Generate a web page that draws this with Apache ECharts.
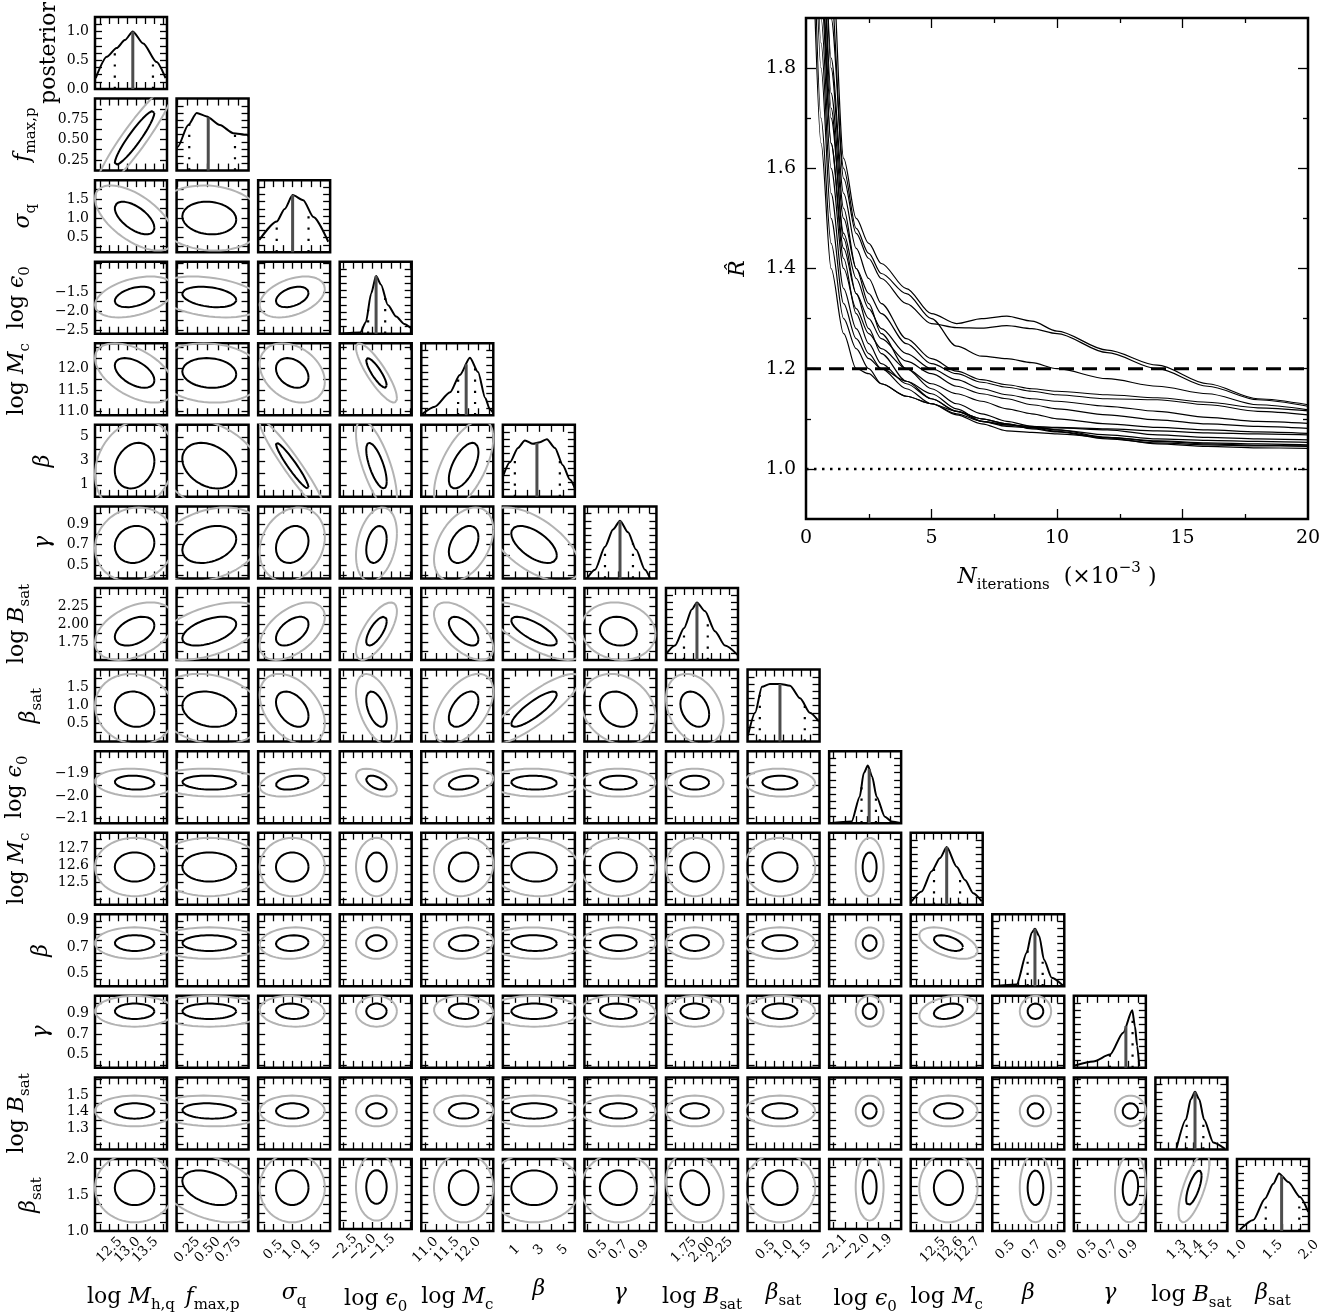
<!DOCTYPE html>
<html>
<head>
<meta charset="utf-8">
<script src="https://cdn.jsdelivr.net/npm/echarts/dist/echarts.min.js"></script>
<style>
html, body { margin: 0; padding: 0; background: #fff; }
#main { width: 1338px; height: 1316px; }
</style>
</head>
<body>
<div id="main"></div>
<script>
var chart = echarts.init(document.getElementById('main'));
var FONT = 'DejaVu Serif';

// ---- parameters (rows / columns of the corner plot) ----
var names = [
    '{r|log }{i|M}{s|h,q}', '{i|f}{s|max,p}', '{i|σ}{s|q}', '{r|log }{i|ϵ}{s|0}', '{r|log }{i|M}{s|c}',
    '{i|β}', '{i|γ}', '{r|log }{i|B}{s|sat}', '{i|β}{s|sat}',
    '{r|log }{i|ϵ}{s|0}', '{r|log }{i|M}{s|c}', '{i|β}', '{i|γ}', '{r|log }{i|B}{s|sat}', '{i|β}{s|sat}'
];
var axisMin = [12.1, 0.12, 0.1, -2.6, 10.9, 0, 0.37, 1.5, 0, -2.12, 12.37, 0.4, 0.37, 1.17, 1.0];
var axisMax = [14.1, 1.0, 2.0, -0.7, 12.6, 6, 1.07, 2.5, 2.0, -1.8, 12.79, 0.95, 1.07, 1.61, 2.0];
var tickStep = [0.25, 0.125, 0.25, 0.25, 0.25, 1, 0.1, 0.125, 0.25, 0.05, 0.05, 0.05, 0.1, 0.05, 0.125];
var tickLabels = [
    [12.5, 13.0, 13.5], [0.25, 0.5, 0.75], [0.5, 1.0, 1.5], [-2.5, -2.0, -1.5], [11.0, 11.5, 12.0],
    [1, 3, 5], [0.5, 0.7, 0.9], [1.75, 2.0, 2.25], [0.5, 1.0, 1.5],
    [-2.1, -2.0, -1.9], [12.5, 12.6, 12.7], [0.5, 0.7, 0.9], [0.5, 0.7, 0.9], [1.3, 1.4, 1.5], [1.0, 1.5, 2.0]
];
var labelDigits = [1, 2, 1, 1, 1, 0, 1, 2, 1, 1, 1, 1, 1, 1, 1];
var postLabels = [0.0, 0.5, 1.0];

// ---- 2D contours: centre, 1-sigma-contour half width, correlations ----
var center = [13.2, 0.52, 1.0, -1.63, 11.9, 2.6, 0.7, 1.9, 0.9, -1.94, 12.59, 0.73, 0.92, 1.405, 1.6];
var halfWidth = [0.55, 0.33, 0.43, 0.27, 0.35, 1.9, 0.18, 0.2, 0.49, 0.031, 0.085, 0.06, 0.075, 0.047, 0.24];
var rho = [
    [],
    [0.93],
    [-0.6, -0.1],
    [0.4, -0.3, 0.4],
    [-0.5, -0.1, -0.3, -0.85],
    [0.2, -0.3, -0.95, -0.7, 0.6],
    [0.1, 0.3, 0.2, 0.3, 0.4, -0.6],
    [0.4, 0.5, 0.5, 0.7, -0.6, -0.75, -0.1],
    [-0.1, -0.2, -0.4, -0.5, 0.5, 0.85, -0.2, -0.3],
    [-0.1, -0.1, 0.3, -0.5, 0.3, -0.05, 0, 0, -0.05],
    [0, 0, 0, 0, 0.1, -0.1, 0, 0, 0, 0],
    [0, 0, 0.1, 0, 0.1, -0.05, 0, 0, 0, 0, -0.5],
    [0, 0, -0.1, 0, -0.1, 0, -0.1, 0, 0, 0, 0.3, 0],
    [0, -0.1, 0, 0, 0, 0, 0, 0, 0, 0, 0, 0, 0],
    [0, -0.4, 0, 0, 0, 0, 0, -0.2, 0, 0, 0, 0, 0.1, 0.7]
];

// ---- 1D marginal posteriors ----
var histX = [
    [12.12, 12.43, 12.70, 12.93, 13.15, 13.44, 13.81, 14.06],
    [0.12, 0.133, 0.263, 0.366, 0.488, 0.65, 0.813, 0.977, 1.0],
    [0.13, 0.59, 0.8, 1.01, 1.29, 1.56, 1.95],
    [-2.6, -2.06, -1.91, -1.77, -1.64, -1.51, -1.33, -1.11, -0.90, -0.72],
    [10.92, 11.22, 11.58, 11.81, 12.05, 12.24, 12.41, 12.52, 12.59],
    [0, 0.59, 1.26, 1.84, 2.51, 3.09, 3.67, 4.34, 5.0, 5.59, 6.0],
    [0.395, 0.473, 0.57, 0.648, 0.716, 0.794, 0.872, 0.959, 1.008],
    [1.5, 1.625, 1.75, 1.861, 1.93, 2.04, 2.18, 2.32, 2.5],
    [0.01, 0.21, 0.4, 0.62, 0.9, 1.18, 1.46, 1.73, 1.98],
    [-2.12, -2.02, -1.984, -1.966, -1.948, -1.929, -1.909, -1.872, -1.843, -1.8],
    [12.376, 12.434, 12.492, 12.541, 12.58, 12.638, 12.687, 12.735, 12.784],
    [0.4, 0.586, 0.663, 0.701, 0.726, 0.759, 0.795, 0.854, 0.942],
    [0.381, 0.559, 0.721, 0.85, 0.938, 0.964, 0.986, 1.006],
    [1.30, 1.357, 1.386, 1.412, 1.438, 1.467, 1.524, 1.595],
    [1.04, 1.226, 1.389, 1.504, 1.583, 1.713, 1.875, 1.99]
];
var histY = [
    [0.19, 0.56, 0.71, 0.85, 1.0, 0.79, 0.47, 0.19],
    [0.38, 0.41, 0.79, 1.0, 0.94, 0.79, 0.65, 0.62, 0.6],
    [0.21, 0.53, 0.75, 0.99, 0.9, 0.61, 0.18],
    [0, 0.02, 0.2, 0.7, 1.0, 0.85, 0.5, 0.3, 0.17, 0.1],
    [0.02, 0.15, 0.4, 0.7, 1.0, 0.75, 0.3, 0.1, 0.05],
    [0.35, 0.6, 0.85, 0.98, 0.92, 0.95, 1.0, 0.85, 0.55, 0.3, 0.15],
    [0, 0.15, 0.55, 0.85, 1.0, 0.8, 0.5, 0.15, 0],
    [0.1, 0.25, 0.55, 0.88, 1.0, 0.85, 0.5, 0.25, 0.08],
    [0.1, 0.5, 0.95, 1.0, 1.0, 0.97, 0.75, 0.5, 0.35],
    [0, 0.03, 0.46, 0.87, 1.0, 0.81, 0.46, 0.11, 0.03, 0],
    [0.06, 0.23, 0.58, 0.81, 1.0, 0.66, 0.43, 0.2, 0.06],
    [0, 0.03, 0.58, 0.93, 1.0, 0.87, 0.46, 0.15, 0.01],
    [0.04, 0.11, 0.23, 0.61, 1.0, 0.72, 0.38, 0.03],
    [0.03, 0.52, 0.87, 1.0, 0.87, 0.52, 0.12, 0.01],
    [0.02, 0.19, 0.56, 0.82, 1.0, 0.85, 0.59, 0.33]
];
var median = [13.15, 0.507, 1.01, -1.64, 11.96, 2.84, 0.716, 1.93, 0.9, -1.942, 12.58, 0.726, 0.876, 1.412, 1.62];
var q16 = [12.65, 0.275, 0.59, -1.85, 11.77, 1.0, 0.57, 1.75, 0.34, -1.976, 12.506, 0.670, 0.721, 1.361, 1.40];
var q84 = [13.71, 0.834, 1.43, -1.40, 12.17, 4.75, 0.842, 2.08, 1.59, -1.912, 12.658, 0.785, 0.941, 1.463, 1.865];

// ---- Gelman-Rubin R-hat versus iterations (x 10^3) ----
var iterations = [0.3, 0.6, 1, 1.5, 2, 2.5, 3, 4, 5, 6, 7, 8, 9, 10, 12, 14, 16, 18, 20];
var rhat = [
    [3.2, 2.6, 2.05, 1.62, 1.50, 1.45, 1.41, 1.36, 1.31, 1.29, 1.30, 1.305, 1.295, 1.275, 1.237, 1.207, 1.17, 1.14, 1.128],
    [3.0, 2.4, 1.95, 1.58, 1.47, 1.42, 1.38, 1.33, 1.29, 1.282, 1.281, 1.286, 1.28, 1.27, 1.232, 1.2, 1.165, 1.138, 1.125],
    [2.9, 2.3, 1.9, 1.6, 1.48, 1.43, 1.39, 1.35, 1.30, 1.245, 1.225, 1.22, 1.212, 1.2, 1.18, 1.165, 1.15, 1.128, 1.118],
    [2.7, 2.2, 1.82, 1.55, 1.44, 1.38, 1.33, 1.26, 1.22, 1.195, 1.178, 1.168, 1.16, 1.155, 1.148, 1.142, 1.133, 1.122, 1.116],
    [2.6, 2.1, 1.75, 1.5, 1.40, 1.35, 1.31, 1.25, 1.21, 1.19, 1.173, 1.163, 1.155, 1.148, 1.14, 1.138, 1.128, 1.115, 1.108],
    [2.5, 2.0, 1.7, 1.47, 1.38, 1.32, 1.28, 1.23, 1.2, 1.178, 1.16, 1.148, 1.14, 1.135, 1.125, 1.115, 1.103, 1.095, 1.091],
    [2.4, 1.95, 1.65, 1.44, 1.35, 1.3, 1.26, 1.215, 1.19, 1.165, 1.15, 1.14, 1.128, 1.12, 1.108, 1.098, 1.09, 1.085, 1.081],
    [2.3, 1.9, 1.6, 1.4, 1.32, 1.27, 1.24, 1.2, 1.17, 1.15, 1.135, 1.12, 1.11, 1.1, 1.09, 1.083, 1.078, 1.074, 1.071],
    [2.6, 2.1, 1.72, 1.46, 1.35, 1.28, 1.23, 1.175, 1.14, 1.115, 1.095, 1.088, 1.085, 1.083, 1.08, 1.076, 1.072, 1.07, 1.068],
    [2.2, 1.8, 1.5, 1.33, 1.26, 1.22, 1.2, 1.175, 1.15, 1.12, 1.095, 1.085, 1.082, 1.082, 1.078, 1.068, 1.063, 1.06, 1.058],
    [2.3, 1.85, 1.55, 1.36, 1.28, 1.23, 1.2, 1.16, 1.13, 1.11, 1.095, 1.088, 1.083, 1.078, 1.068, 1.06, 1.057, 1.055, 1.053],
    [2.1, 1.7, 1.45, 1.3, 1.24, 1.2, 1.17, 1.145, 1.13, 1.108, 1.09, 1.076, 1.073, 1.07, 1.063, 1.056, 1.052, 1.05, 1.048],
    [2.8, 2.2, 1.8, 1.52, 1.4, 1.33, 1.27, 1.2, 1.16, 1.13, 1.11, 1.095, 1.085, 1.078, 1.063, 1.055, 1.05, 1.047, 1.046],
    [2.0, 1.65, 1.4, 1.27, 1.2, 1.19, 1.17, 1.145, 1.13, 1.115, 1.1, 1.09, 1.08, 1.074, 1.06, 1.052, 1.048, 1.046, 1.045],
    [2.5, 2.0, 1.65, 1.42, 1.31, 1.25, 1.21, 1.17, 1.14, 1.115, 1.1, 1.09, 1.082, 1.075, 1.062, 1.05, 1.045, 1.042, 1.041]
];
var rhatThreshold = 1.2;
var rhatIdeal = 1.0;

// ---- layout ----
var CELL = 72, PITCH = 81.57, LEFT0 = 95, TOP0 = 17;
var yNameGap = [30, 56, 56, 62, 62, 36, 36, 62, 50, 64, 62, 38, 38, 62, 50];
var xNameGap = [50, 50, 46, 54, 50, 42, 46, 50, 46, 54, 50, 46, 46, 48, 46];

var RICH = {
    r: { fontFamily: FONT, fontSize: 22, lineHeight: 32, color: '#000' },
    i: { fontFamily: FONT, fontSize: 22, fontStyle: 'italic', lineHeight: 32, color: '#000' },
    s: { fontFamily: FONT, fontSize: 15, lineHeight: 15, verticalAlign: 'bottom', color: '#000' },
    u: { fontFamily: FONT, fontSize: 15, lineHeight: 15, verticalAlign: 'top', color: '#000' }
};

function ticksFor(min, max, step) {
    var out = [];
    var v = Math.ceil((min + 1e-9) / step) * step;
    for (; v < max - 1e-9; v += step) out.push(+v.toFixed(6));
    return out;
}
function fmt(d) {
    return function (v) { return (+v).toFixed(d).replace('-', '\u2212'); };
}
function interp(p, x) {
    var xs = histX[p], ys = histY[p];
    for (var k = 1; k < xs.length; k++) {
        if (x <= xs[k]) {
            var t = (x - xs[k - 1]) / (xs[k] - xs[k - 1]);
            return ys[k - 1] + t * (ys[k] - ys[k - 1]);
        }
    }
    return ys[ys.length - 1];
}
function ellipse(cx, cy, wx, wy, r, k) {
    var pts = [];
    var q = Math.sqrt(1 - r * r);
    for (var n = 0; n <= 60; n++) {
        var t = n / 60 * 2 * Math.PI;
        var u = Math.cos(t), v = r * Math.cos(t) + q * Math.sin(t);
        pts.push([cx + k * wx * u, cy + k * wy * v]);
    }
    return pts;
}

var grids = [], xAxes = [], yAxes = [], series = [];

function tickAxis(kind, g, pos, min, max, ticks, tickLen) {
    var a = {
        type: 'value', gridIndex: g, position: pos, min: min, max: max,
        axisLine: { show: false, onZero: false }, splitLine: { show: false },
        axisTick: { show: !!ticks, inside: true, length: tickLen, customValues: ticks || [], lineStyle: { color: '#000', width: 1.3 } },
        axisLabel: { show: false }
    };
    (kind === 'x' ? xAxes : yAxes).push(a);
    return a;
}

function labelStyle(labels, digits, rotate) {
    var l = {
        show: true, customValues: labels, formatter: fmt(digits), color: '#000',
        fontFamily: FONT, fontSize: rotate ? 13.5 : 14, margin: rotate ? 19 : 6,
        showMinLabel: true, showMaxLabel: true, hideOverlap: false
    };
    if (rotate) {
        l.rotate = 45;
        l.align = 'center';
        l.verticalAlign = 'middle';
    }
    return l;
}

function setName(a, kind, name, gap) {
    a.name = name;
    a.nameLocation = 'middle';
    a.nameGap = gap;
    a.nameTextStyle = { rich: RICH };
    if (kind === 'y') a.nameRotate = 90;
}

function lineSeries(xi, yi, data, style, extra) {
    var s = {
        type: 'line', xAxisIndex: xi, yAxisIndex: yi, data: data,
        showSymbol: false, symbol: 'none', silent: true, animation: false, clip: true,
        lineStyle: style
    };
    for (var key in extra) s[key] = extra[key];
    series.push(s);
}

for (var i = 0; i < 15; i++) {
    for (var j = 0; j <= i; j++) {
        var g = grids.length;
        grids.push({
            left: LEFT0 + j * PITCH, top: TOP0 + i * PITCH, width: CELL, height: CELL,
            show: true, borderColor: '#000', borderWidth: 2.5, backgroundColor: 'transparent'
        });
        var xt = ticksFor(axisMin[j], axisMax[j], tickStep[j]);
        var ax = tickAxis('x', g, 'bottom', axisMin[j], axisMax[j], xt, 7);
        var xb = xAxes.length - 1;
        if (i === 14) {
            // outer labels on this axis, the middle label on an overlaid axis (keeps all three visible)
            var lab = tickLabels[j];
            ax.axisLabel = labelStyle([lab[0], lab[2]], labelDigits[j], true);
            setName(ax, 'x', names[j], xNameGap[j]);
            var mid = tickAxis('x', g, 'bottom', axisMin[j], axisMax[j], null, 7);
            mid.axisLabel = labelStyle([lab[1]], labelDigits[j], true);
        }
        tickAxis('x', g, 'top', axisMin[j], axisMax[j], xt, 7);

        var diag = (i === j);
        var ymin = diag ? 0 : axisMin[i], ymax = diag ? 1.25 : axisMax[i];
        var yt = diag ? ticksFor(0, 1.25, 0.125) : ticksFor(axisMin[i], axisMax[i], tickStep[i]);
        var ay = tickAxis('y', g, 'left', ymin, ymax, yt, 7);
        var yl = yAxes.length - 1;
        if (j === 0) {
            ay.axisLabel = labelStyle(diag ? postLabels : tickLabels[i], diag ? 1 : labelDigits[i], false);
            setName(ay, 'y', i === 0 ? '{r|posterior}' : names[i], yNameGap[i]);
        }
        tickAxis('y', g, 'right', ymin, ymax, yt, 7);

        if (diag) {
            var p = j;
            var curve = histX[p].map(function (x, k) { return [x, histY[p][k]]; });
            lineSeries(xb, yl, curve, { color: '#000', width: 2 }, { smooth: 0.25, smoothMonotone: 'x' });
            lineSeries(xb, yl, [[median[p], 0], [median[p], interp(p, median[p])]], { color: '#4d4d4d', width: 3 });
            lineSeries(xb, yl, [[q16[p], 0], [q16[p], interp(p, q16[p])]], { color: '#000', width: 2.2, type: [2.2, 9] });
            lineSeries(xb, yl, [[q84[p], 0], [q84[p], interp(p, q84[p])]], { color: '#000', width: 2.2, type: [2.2, 9] });
        } else {
            var r = rho[i][j];
            lineSeries(xb, yl, ellipse(center[j], center[i], halfWidth[j], halfWidth[i], r, 2.0), { color: '#b3b3b3', width: 2 });
            lineSeries(xb, yl, ellipse(center[j], center[i], halfWidth[j], halfWidth[i], r, 1.0), { color: '#000', width: 2 });
        }
    }
}

// ---- R-hat panel ----
var gR = grids.length;
grids.push({ left: 806, top: 18, width: 502, height: 501, show: true, borderColor: '#000', borderWidth: 2.5, backgroundColor: 'transparent' });

var rx = tickAxis('x', gR, 'bottom', 0, 20, [5, 10, 15], 10);
rx.axisLabel = { show: true, customValues: [0, 5, 10, 15, 20], color: '#000', fontFamily: FONT, fontSize: 19, margin: 10, showMinLabel: true, showMaxLabel: true };
setName(rx, 'x', '{i|N}{s|iterations}{r|  (×10}{u|−3}{r| )}', 42);
var rxIndex = xAxes.length - 1;
tickAxis('x', gR, 'bottom', 0, 20, [2.5, 7.5, 12.5, 17.5], 5);
tickAxis('x', gR, 'top', 0, 20, [5, 10, 15], 10);
tickAxis('x', gR, 'top', 0, 20, [2.5, 7.5, 12.5, 17.5], 5);

var ry = tickAxis('y', gR, 'left', 0.9, 1.9, [1.0, 1.2, 1.4, 1.6, 1.8], 10);
ry.axisLabel = { show: true, customValues: [1.0, 1.2, 1.4, 1.6, 1.8], formatter: fmt(1), color: '#000', fontFamily: FONT, fontSize: 19, margin: 10, showMinLabel: true, showMaxLabel: true };
setName(ry, 'y', '{i|R\u0302}', 52);
var ryIndex = yAxes.length - 1;
tickAxis('y', gR, 'left', 0.9, 1.9, [1.1, 1.3, 1.5, 1.7], 5);
tickAxis('y', gR, 'right', 0.9, 1.9, [1.0, 1.2, 1.4, 1.6, 1.8], 10);
tickAxis('y', gR, 'right', 0.9, 1.9, [1.1, 1.3, 1.5, 1.7], 5);

rhat.forEach(function (vals) {
    lineSeries(rxIndex, ryIndex, iterations.map(function (x, k) { return [x, vals[k]]; }),
        { color: '#000', width: 1.2 }, { smooth: 0.3, smoothMonotone: 'x' });
});
lineSeries(rxIndex, ryIndex, [[0, rhatThreshold], [20, rhatThreshold]], { color: '#000', width: 3, type: [15, 8] });
lineSeries(rxIndex, ryIndex, [[0, rhatIdeal], [20, rhatIdeal]], { color: '#000', width: 2.5, type: [2.5, 5.5] });

chart.setOption({
    animation: false,
    backgroundColor: '#fff',
    grid: grids,
    xAxis: xAxes,
    yAxis: yAxes,
    series: series
});
</script>
</body>
</html>
